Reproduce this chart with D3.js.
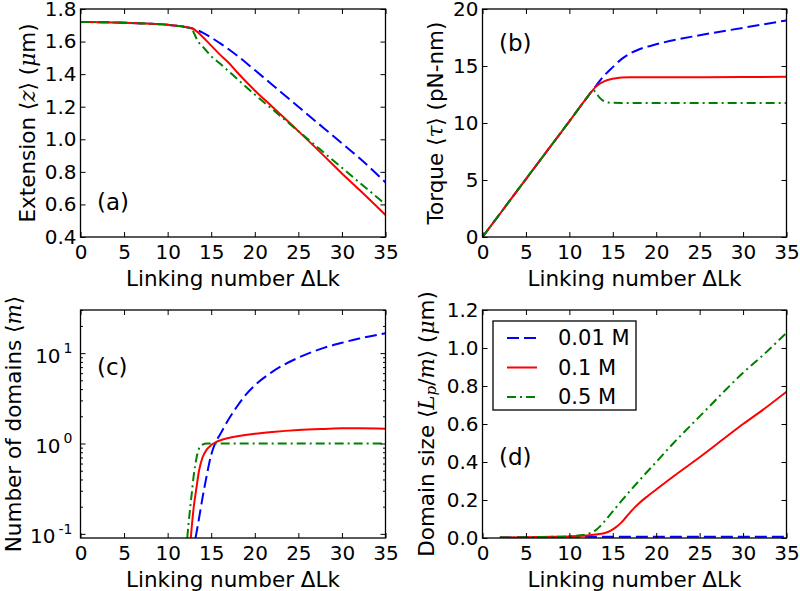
<!DOCTYPE html>
<html><head><meta charset="utf-8">
<script src="https://cdn.jsdelivr.net/npm/d3@7"></script>
<style>body{margin:0;background:#fff} text{font-family:"DejaVu Sans",sans-serif;fill:#000}</style>
</head><body><svg id="c" width="800" height="591"></svg>
<script>
// ---------- data ----------
const xTicks = [0,5,10,15,20,25,30,35];
const seriesNames = ["0.01 M","0.1 M","0.5 M"];

// (a) extension
const extBlueX = [0,2.5,5,7.5,10,11,12,12.5,13,13.5,14,15,16,17,18,19,20,22,25,28,30,32,35];
const extBlue  = [1.72,1.719,1.716,1.711,1.703,1.697,1.69,1.685,1.678,1.668,1.655,1.625,1.59,1.553,1.513,1.47,1.425,1.335,1.2,1.065,0.975,0.885,0.735];
const extRedX  = [0,2.5,5,7.5,10,11,12,12.5,13,13.5,14,15,16,17,18,20,22,25,28,30,32,35];
const extRed   = [1.72,1.719,1.716,1.711,1.703,1.697,1.69,1.685,1.677,1.655,1.63,1.575,1.52,1.47,1.41,1.3,1.2,1.05,0.895,0.79,0.69,0.535];
const extGreenX= [0,2.5,5,7.5,10,11,12,12.5,12.8,13,13.5,14,14.5,15,16,18,20,22,25,28,30,32,35];
const extGreen = [1.72,1.719,1.716,1.711,1.703,1.697,1.69,1.683,1.678,1.655,1.6,1.57,1.54,1.51,1.465,1.37,1.275,1.185,1.05,0.915,0.825,0.735,0.6];
const extTicks = [0.4,0.6,0.8,1.0,1.2,1.4,1.6,1.8];

// (b) torque
const torBlueX = [0,5,10,12,12.5,13,13.5,14,15,16,17,18,20,25,30,35];
const torBlue  = [0,5.08,10.15,12.2,12.7,13.2,13.7,14.15,14.9,15.6,16.1,16.45,16.9,17.7,18.35,19.0];
const torRedX  = [0,5,10,12,12.5,13,13.5,14,15,16,17,20,25,30,35];
const torRed   = [0,5.08,10.15,12.2,12.7,13.15,13.45,13.65,13.88,14.0,14.02,14.02,14.02,14.03,14.05];
const torGreenX= [0,5,10,12,12.5,12.8,13,13.5,14,14.5,15,16,20,25,30,35];
const torGreen = [0,5.08,10.15,12.2,12.7,12.85,12.7,12.2,11.9,11.8,11.77,11.76,11.76,11.76,11.76,11.76];
const torTicks = [0,5,10,15,20];

// (c) number of domains (log)
const domBlueX = [13.2,13.5,14,14.5,15,15.5,16,17,18,19,20,22,25,28,30,32,35];
const domBlue  = [0.09,0.13,0.25,0.45,0.75,1.03,1.25,1.85,2.6,3.5,4.4,6.2,8.9,11.5,13.0,14.5,16.6];
const domRedX  = [12.65,12.8,13,13.3,13.6,14,14.5,15,15.5,16,17,18,20,22,25,28,30,32,35];
const domRed   = [0.09,0.13,0.2,0.32,0.5,0.7,0.86,0.96,1.03,1.08,1.15,1.2,1.28,1.34,1.41,1.45,1.47,1.47,1.46];
const domGreenX= [12.25,12.4,12.6,12.8,13,13.3,13.6,14,14.5,15,20,25,30,35];
const domGreen = [0.09,0.13,0.2,0.3,0.45,0.68,0.88,0.97,1.0,1.0,1.0,1.0,1.0,1.0];
const domMajor = [0.1,1,10];
const domExp   = ["-1","0","1"];

// (d) domain size
const sizBlueX = [2,5,10,13,15,20,25,30,35];
const sizBlue  = [0.002,0.004,0.006,0.007,0.007,0.007,0.007,0.007,0.007];
const sizRedX  = [2,5,8,10,11,12,13,14,14.5,15,15.5,16,16.5,17,17.5,18,19,20,22,25,28,30,32,35];
const sizRed   = [0.002,0.004,0.006,0.008,0.01,0.013,0.018,0.025,0.033,0.045,0.062,0.082,0.108,0.135,0.16,0.182,0.22,0.255,0.325,0.425,0.53,0.6,0.665,0.77];
const sizGreenX= [2,5,8,10,11,12,12.5,13,13.5,14,15,16,18,20,22,25,28,30,32,35];
const sizGreen = [0.002,0.004,0.006,0.009,0.013,0.02,0.028,0.04,0.06,0.085,0.14,0.195,0.3,0.4,0.5,0.64,0.78,0.87,0.95,1.08];
const sizTicks = [0,0.2,0.4,0.6,0.8,1.0,1.2];

// ---------- drawing ----------
const svg = d3.select("#c");
const COL = ["#0000ff","#ff0000","#008000"];
const DASH = ["12,5", null, "9,4,2,4"];
const TF = 20;

function panel(o){
  const x = d3.scaleLinear().domain([0,35]).range([o.l,o.r]);
  const y = (o.log ? d3.scaleLog() : d3.scaleLinear()).domain(o.yd).range([o.b,o.t]);
  const g = svg.append("g");
  const cid = "clip"+o.name;
  svg.append("clipPath").attr("id",cid).append("rect")
     .attr("x",o.l).attr("y",o.t).attr("width",o.r-o.l).attr("height",o.b-o.t);
  const line = d3.line().curve(d3.curveMonotoneX).x(d=>x(d[0])).y(d=>y(d[1]));
  o.series.forEach((s,i)=>{
    g.append("path").datum(d3.zip(s[0],s[1])).attr("d",line)
     .attr("fill","none").attr("stroke",COL[i]).attr("stroke-width",2)
     .attr("stroke-dasharray",DASH[i]).attr("clip-path",`url(#${cid})`);
  });
  const style = sel=>{
    sel.select(".domain").remove();
    sel.selectAll("line").attr("stroke","#000").attr("stroke-width",1);
    sel.selectAll("text").style("font-size",TF+"px").attr("fill","#000");
  };
  g.append("g").attr("transform",`translate(0,${o.b})`)
    .call(d3.axisBottom(x).tickValues(xTicks).tickSize(-5).tickPadding(8).tickFormat(d3.format("d"))).call(style);
  g.append("g").attr("transform",`translate(0,${o.t})`)
    .call(d3.axisTop(x).tickValues(xTicks).tickSize(-5).tickFormat("")).call(style);
  if(o.log){
    const minor = [];
    [0.1,1,10].forEach(p=>{for(let k=2;k<=9;k++){const v=p*k; if(v>=o.yd[0]&&v<=o.yd[1]) minor.push(v);}});
    const la = g.append("g").attr("transform",`translate(${o.l},0)`)
      .call(d3.axisLeft(y).tickValues(domMajor).tickSize(-5).tickPadding(8).tickFormat(()=>"10")).call(style);
    la.selectAll("text").attr("dy","0.45em").each(function(d,i){
      d3.select(this).append("tspan").attr("dx","3").attr("dy","-0.7em").style("font-size","14px").text(domExp[i]);
    });
    g.append("g").attr("transform",`translate(${o.l},0)`)
      .call(d3.axisLeft(y).tickValues(minor).tickSize(-2.5).tickFormat("")).call(style);
    g.append("g").attr("transform",`translate(${o.r},0)`)
      .call(d3.axisRight(y).tickValues(domMajor).tickSize(-5).tickFormat("")).call(style);
    g.append("g").attr("transform",`translate(${o.r},0)`)
      .call(d3.axisRight(y).tickValues(minor).tickSize(-2.5).tickFormat("")).call(style);
  } else {
    g.append("g").attr("transform",`translate(${o.l},0)`)
      .call(d3.axisLeft(y).tickValues(o.yt).tickSize(-5).tickPadding(4).tickFormat(o.fmt)).call(style);
    g.append("g").attr("transform",`translate(${o.r},0)`)
      .call(d3.axisRight(y).tickValues(o.yt).tickSize(-5).tickFormat("")).call(style);
  }
  g.append("rect").attr("x",o.l).attr("y",o.t).attr("width",o.r-o.l).attr("height",o.b-o.t)
    .attr("fill","none").attr("stroke","#000").attr("stroke-width",1.3);
  g.append("text").attr("x",(o.l+o.r)/2).attr("y",o.b+49).attr("text-anchor","middle")
    .style("font-size","21.5px").text("Linking number \u0394Lk");
  const yl = g.append("text").attr("transform",`translate(${o.ylx},${(o.t+o.b)/2}) rotate(-90)`)
    .attr("text-anchor","middle").attr("dominant-baseline","central").style("font-size","21.5px");
  o.ylab(yl);
  g.append("text").attr("x",o.plx).attr("y",o.ply).attr("dominant-baseline","central")
    .style("font-size","23px").text(o.pl);
  return {x,y,g};
}
function mathI(t){ return t.append("tspan").style("font-style","italic").style("font-family","DejaVu Serif"); }

panel({name:"a",l:80.5,r:385.5,t:9,b:237,yd:[0.4,1.8],yt:extTicks,fmt:d3.format(".1f"),
  series:[[extBlueX,extBlue],[extRedX,extRed],[extGreenX,extGreen]],
  ylx:27,pl:"(a)",plx:97,ply:202,
  ylab:t=>{t.append("tspan").text("Extension \u27E8");mathI(t).text("z");t.append("tspan").text("\u27E9 (");mathI(t).text("\u03BC");t.append("tspan").text("m)");}});
panel({name:"b",l:482.5,r:786.5,t:9,b:237,yd:[0,20],yt:torTicks,fmt:d3.format("d"),
  series:[[torBlueX,torBlue],[torRedX,torRed],[torGreenX,torGreen]],
  ylx:435,pl:"(b)",plx:499,ply:43,
  ylab:t=>{t.append("tspan").text("Torque \u27E8");mathI(t).text("\u03C4");t.append("tspan").text("\u27E9 (pN-nm)");}});
panel({name:"c",l:80.5,r:385.5,t:310,b:538,yd:[0.09,30],log:true,
  series:[[domBlueX,domBlue],[domRedX,domRed],[domGreenX,domGreen]],
  ylx:13,pl:"(c)",plx:97,ply:367,
  ylab:t=>{t.append("tspan").text("Number of domains \u27E8");mathI(t).text("m");t.append("tspan").text("\u27E9");}});
panel({name:"d",l:482.5,r:786.5,t:310,b:538,yd:[0,1.2],yt:sizTicks,fmt:d3.format(".1f"),
  series:[[sizBlueX,sizBlue],[sizRedX,sizRed],[sizGreenX,sizGreen]],
  ylx:426,pl:"(d)",plx:499,ply:457,
  ylab:t=>{t.append("tspan").text("Domain size \u27E8");mathI(t).text("L");mathI(t).attr("dy","5").style("font-size","15px").text("p");
           t.append("tspan").attr("dy","-5").text("/");mathI(t).text("m");t.append("tspan").text("\u27E9 (");mathI(t).text("\u03BC");t.append("tspan").text("m)");}});

// legend
const lg = svg.append("g");
lg.append("rect").attr("x",493).attr("y",321).attr("width",143).attr("height",89)
  .attr("fill","#fff").attr("stroke","#000").attr("stroke-width",1.3);
seriesNames.forEach((n,i)=>{
  const yy = 338 + i*29.5;
  lg.append("line").attr("x1",507).attr("x2",537).attr("y1",yy).attr("y2",yy)
    .attr("stroke",COL[i]).attr("stroke-width",2).attr("stroke-dasharray",DASH[i]);
  lg.append("text").attr("x",558).attr("y",yy).attr("dominant-baseline","central")
    .style("font-size","21px").text(n);
});
</script></body></html>
